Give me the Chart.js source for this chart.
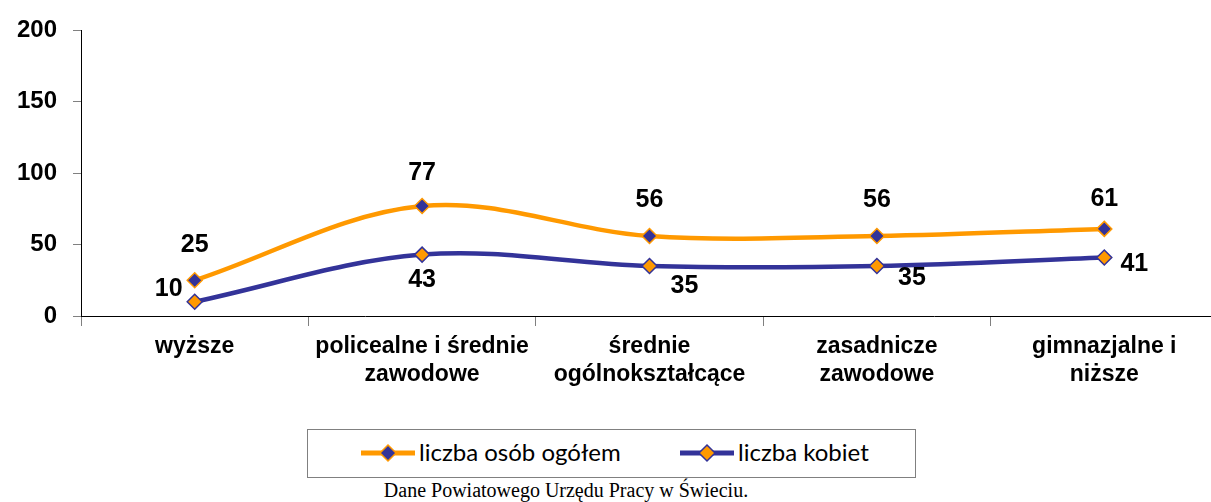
<!DOCTYPE html>
<html>
<head>
<meta charset="utf-8">
<script src="https://cdn.jsdelivr.net/npm/chart.js@4/dist/chart.umd.min.js"></script>
<style>
  html, body { margin: 0; padding: 0; background: #fff; overflow: hidden; width: 1211px; height: 502px; }
  #wrap { position: absolute; left: 0; top: 0; width: 1227px; height: 400px; }
  #chart { display: block; width: 1227px; height: 400px; }
  #legend { position: absolute; left: 307px; top: 429px; width: 607px; height: 47px; border: 1px solid #808080; font-family: Lato, "Open Sans", sans-serif; font-size: 24px; color: #000; }
  #legend svg { position: absolute; top: 13px; }
  #legend span { position: absolute; top: 8px; line-height: 28px; white-space: nowrap; }
  #source { position: absolute; left: 0; width: 1132px; top: 479px; text-align: center; font-family: "Liberation Serif", "Times New Roman", serif; font-size: 20px; color: #000; }
</style>
</head>
<body>
<!-- canvas is a bit wider than the window: the plot runs past the right edge -->
<div id="wrap"><canvas id="chart" width="1227" height="400"></canvas></div>
<div id="legend">
  <svg style="left:52px" width="56" height="20"><line x1="1" y1="10" x2="55" y2="10" stroke="#FF9900" stroke-width="5"/><polygon points="28,2 36,10 28,18 20,10" fill="#333399" stroke="#FF9900" stroke-width="1.5"/></svg>
  <span style="left:111px">liczba osób ogółem</span>
  <svg style="left:371px" width="56" height="20"><line x1="1" y1="10" x2="55" y2="10" stroke="#333399" stroke-width="5"/><polygon points="28,2 36,10 28,18 20,10" fill="#FF9900" stroke="#333399" stroke-width="1.5"/></svg>
  <span style="left:430px">liczba kobiet</span>
</div>
<div id="source">Dane Powiatowego Urzędu Pracy w Świeciu.</div>
<script>
const categories = [
  ["wyższe"],
  ["policealne i średnie", "zawodowe"],
  ["średnie", "ogólnokształcące"],
  ["zasadnicze", "zawodowe"],
  ["gimnazjalne i", "niższe"]
];
const ogolem = [25, 77, 56, 56, 61];
const kobiety = [10, 43, 35, 35, 41];
const yTicks = [0, 50, 100, 150, 200];

// where each value label sits relative to its point (px)
const labelOffsets = [
  [[0, -35], [0, -33], [0, -36], [0, -36], [0, -30]],
  [[-26, -13], [0, 26], [35, 20], [35, 12], [30, 7]]
];

const valueLabels = {
  id: 'valueLabels',
  afterDatasetsDraw(chart) {
    const ctx = chart.ctx;
    ctx.save();
    ctx.font = 'bold 25px "Liberation Sans", Arial, sans-serif';
    ctx.fillStyle = '#000';
    ctx.textAlign = 'center';
    ctx.textBaseline = 'middle';
    chart.data.datasets.forEach((ds, i) => {
      chart.getDatasetMeta(i).data.forEach((pt, j) => {
        const off = labelOffsets[i][j];
        ctx.fillText(String(ds.data[j]), pt.x + off[0], pt.y + off[1]);
      });
    });
    ctx.restore();
  }
};

new Chart(document.getElementById('chart'), {
  type: 'line',
  data: {
    labels: categories,
    datasets: [{
      label: 'liczba osób ogółem',
      data: ogolem,
      borderColor: '#FF9900',
      borderWidth: 4.5,
      pointStyle: 'rectRot',
      pointRadius: 7.5,
      pointBackgroundColor: '#333399',
      pointBorderColor: '#FF9900',
      pointBorderWidth: 1.5,
      tension: 0.35,
      fill: false
    }, {
      label: 'liczba kobiet',
      data: kobiety,
      borderColor: '#333399',
      borderWidth: 4.5,
      pointStyle: 'rectRot',
      pointRadius: 7.5,
      pointBackgroundColor: '#FF9900',
      pointBorderColor: '#333399',
      pointBorderWidth: 1.5,
      tension: 0.35,
      fill: false
    }]
  },
  options: {
    responsive: false,
    animation: false,
    devicePixelRatio: 1,
    layout: { padding: { top: 28, left: 0, right: 0, bottom: 0 } },
    plugins: { legend: { display: false }, tooltip: { enabled: false } },
    scales: {
      x: {
        offset: true,
        grid: { offset: true, drawOnChartArea: false, tickLength: 10, tickColor: '#808080' },
        border: { color: '#000', width: 1 },
        ticks: {
          color: '#000',
          padding: 7,
          maxRotation: 0,
          autoSkip: false,
          font: { family: '"Liberation Sans", Arial, sans-serif', size: 23, weight: 'bold', lineHeight: 1.2 }
        },
        afterFit(scale) { scale.height = 84; }
      },
      y: {
        min: 0,
        max: 200,
        afterBuildTicks(scale) { scale.ticks = yTicks.map(v => ({ value: v })); },
        grid: { drawOnChartArea: false, tickLength: 8, tickColor: '#808080' },
        border: { color: '#000', width: 1 },
        ticks: {
          color: '#000',
          padding: 16,
          font: { family: '"Liberation Sans", Arial, sans-serif', size: 24, weight: 'bold' }
        },
        afterFit(scale) { scale.width = 81; }
      }
    }
  },
  plugins: [valueLabels]
});
</script>
</body>
</html>
